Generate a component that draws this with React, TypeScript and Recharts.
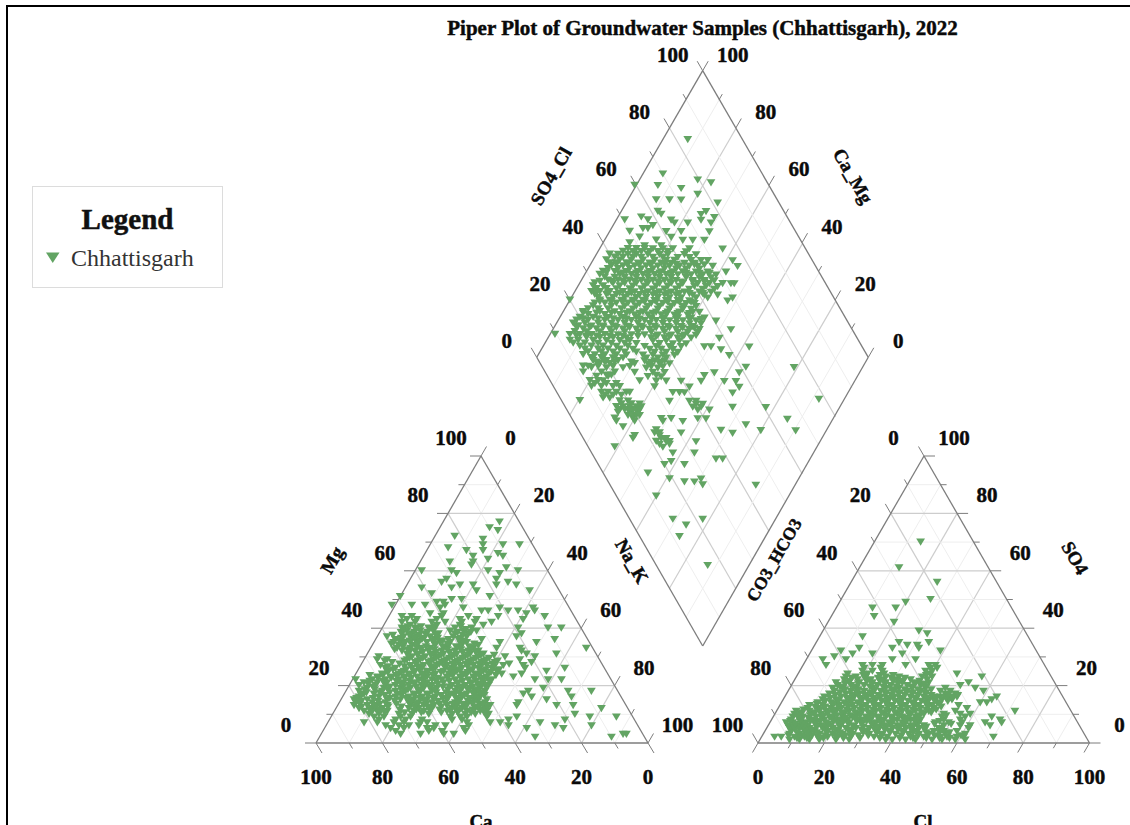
import React from "react";
import { ScatterChart, Scatter, XAxis, YAxis, ReferenceLine } from "recharts";

// ---- values ----
const SERIES_NAME = "Chhattisgarh";
const TITLE = "Piper Plot of Groundwater Samples (Chhattisgarh), 2022";
const TICK_VALUES = [0, 20, 40, 60, 80, 100];

// cation triangle: [Mg %, [Ca % of each sample at that Mg %]]
const cationRows: [number, number[]][] = [
  [2, [33, 10]],
  [3, [73, 67, 60, 57, 6, 5]],
  [4, [74, 64, 60, 53]],
  [5, [75, 71, 64, 62, 53, 34, 23]],
  [6, [76, 72, 69, 66, 61, 58, 51, 14, 25, 39]],
  [7, [82, 78, 73, 70, 65, 63, 51, 44, 29, 41]],
  [8, [77, 72, 69, 64, 55, 52, 21, 38]],
  [9, [78, 75, 70, 67, 55, 52, 50, 44, 35, 13, 5]],
  [10, [79, 76, 70, 66, 61, 54, 50, 47, 43, 17]],
  [11, [80, 76, 73, 65, 62, 55, 52, 49, 45, 43]],
  [12, [81, 77, 74, 66, 63, 59, 53, 50, 46, 43, 8]],
  [13, [82, 78, 75, 72, 65, 61, 58, 54, 51, 48, 44, 41, 33, 21, 16]],
  [14, [81, 76, 72, 65, 62, 58, 54, 51, 46, 42, 32]],
  [15, [81, 77, 71, 67, 63, 59, 53, 49, 45, 41, 23]],
  [16, [79, 73, 68, 64, 60, 56, 52, 48, 43, 27, 15]],
  [17, [77, 74, 67, 62, 58, 51, 46, 41, 29]],
  [18, [78, 71, 67, 64, 60, 56, 49, 43, 40, 27, 15, 8]],
  [19, [75, 70, 65, 62, 58, 54, 48, 44, 41, 22]],
  [20, [77, 72, 66, 62, 58, 55, 49, 45, 41, 38]],
  [21, [75, 71, 68, 63, 60, 56, 51, 47, 43, 39]],
  [22, [77, 72, 68, 64, 58, 54, 51, 47, 43, 39, 36, 23, 19, 15]],
  [23, [70, 66, 62, 58, 55, 49, 45, 41, 37, 29]],
  [24, [68, 63, 60, 56, 52, 48, 44, 40, 36, 32, 26]],
  [25, [66, 61, 58, 54, 49, 45, 41, 37, 33, 18]],
  [26, [66, 63, 58, 55, 51, 46, 43, 38, 34, 24, 12]],
  [27, [67, 58, 54, 50, 47, 43, 39, 35, 30, 24]],
  [28, [63, 56, 52, 48, 44, 40, 36, 32, 21]],
  [29, [67, 64, 58, 54, 50, 46, 42, 38, 34, 24]],
  [30, [66, 56, 52, 48, 44, 40, 36, 28, 19]],
  [31, [57, 54, 49, 46, 42, 38, 34, 21, 12]],
  [32, [58, 54, 50, 46, 42, 38, 35, 22]],
  [33, [59, 55, 52, 49, 44, 40, 36, 29, 22, 2]],
  [34, [58, 54, 47, 43, 39, 34]],
  [35, [59, 56, 52, 49, 45, 42, 37, 27, 16]],
  [36, [58, 53, 50, 46, 42, 39, 32, 10]],
  [37, [60, 55, 51, 47, 40, 36, 21]],
  [38, [55, 52, 48, 44, 39, 35, 19]],
  [39, [53, 49, 45, 40, 36, 32]],
  [40, [54, 50, 46, 38, 33, 19, 10, 6]],
  [41, [51, 43, 36, 29]],
  [42, [53, 49, 44, 40, 35, 31, 26]],
  [43, [51, 48, 42, 35, 30, 16]],
  [44, [52, 49, 40, 32, 23, 9]],
  [45, [43, 39, 14]],
  [46, [27, 25, 19, 16, 11]],
  [47, [39, 32, 21, 11]],
  [48, [53, 47, 43, 37]],
  [49, [39, 37]],
  [50, [34, 31]],
  [51, [49, 22]],
  [52, [39]],
  [53, [25, 9]],
  [54, [41, 32]],
  [55, [29, 25, 18, 12]],
  [56, [34, 14]],
  [57, [32, 17]],
  [59, [28, 15]],
  [60, [38, 29, 18, 9]],
  [61, [12]],
  [62, [22]],
  [63, [28, 21]],
  [64, [16]],
  [65, [20, 11]],
  [66, [12]],
  [67, [21, 16]],
  [68, [26]],
  [69, [15, 9, 4]],
  [71, [14]],
  [72, [22]],
  [74, [8]],
  [75, [10]],
  [77, [6]],
];
// samples in the dense core of the same triangle
const cationCoreRows: [number, number[]][] = [
  [10.5, [78, 74, 68, 63, 57, 52, 48, 44]],
  [11.5, [78, 75, 69, 64, 60, 57, 54, 51, 47, 44]],
  [12.5, [80, 76, 72, 68, 64, 60, 56, 52, 49, 45, 42]],
  [13.5, [80, 74, 69, 63, 60, 56, 52, 49, 46, 43]],
  [14.5, [79, 74, 69, 64, 60, 56, 50, 47, 44]],
  [15.5, [80, 75, 70, 65, 61, 57, 54, 50, 46, 43]],
  [16.5, [78, 71, 66, 62, 58, 54, 50, 47, 44, 41]],
  [17.5, [76, 72, 69, 65, 60, 55, 52, 48, 44, 42]],
  [18.5, [76, 73, 69, 63, 59, 55, 51, 47, 45, 42]],
  [19.5, [73, 68, 64, 60, 56, 52, 50, 46, 43, 39]],
  [20.5, [74, 69, 64, 60, 57, 53, 47, 43, 40]],
  [21.5, [73, 69, 65, 61, 57, 53, 49, 45, 41, 37]],
  [22.5, [70, 66, 62, 60, 56, 52, 49, 45, 41, 38]],
  [23.5, [72, 68, 64, 60, 56, 53, 47, 43, 39, 34]],
  [24.5, [66, 62, 58, 54, 50, 46, 42, 38, 35]],
  [25.5, [64, 60, 56, 52, 47, 44, 40, 36, 32]],
  [26.5, [65, 60, 56, 52, 48, 45, 41, 37, 33]],
  [27.5, [61, 56, 52, 49, 45, 41, 37, 33, 28]],
  [28.5, [65, 59, 55, 51, 47, 43, 39, 35, 31]],
  [29.5, [57, 53, 49, 45, 41, 37, 33]],
  [30.5, [54, 50, 47, 43, 39, 35, 31]],
  [31.5, [56, 52, 48, 44, 40, 36]],
  [32.5, [60, 56, 52, 48, 44, 40, 37]],
  [33.5, [57, 53, 50, 45, 41, 37]],
  [34.5, [60, 56, 52, 47, 43, 39, 35]],
  [35.5, [57, 54, 51, 47, 44, 38]],
  [36.5, [56, 52, 49, 45, 38]],
  [37.5, [58, 53, 50, 45, 37]],
  [38.5, [55, 51, 47, 38, 34]],
  [39.5, [54, 50, 45, 35]],
  [40.5, [52, 48, 44, 36]],
];

// anion triangle: [SO4 %, [Cl % of each sample at that SO4 %]]
const anionRows: [number, number[]][] = [
  [1, [9, 12, 15, 18, 23, 27, 38, 40, 44, 47, 52, 55, 59, 62]],
  [2, [4, 6, 10, 13, 17, 20, 23, 27, 34, 38, 45, 49, 54, 56, 59, 61, 70]],
  [3, [8, 11, 14, 17, 21, 24, 27, 32, 36, 40, 44, 47, 50, 55, 61]],
  [4, [8, 12, 15, 19, 22, 26, 31, 34, 38, 42, 46, 51, 54, 58]],
  [5, [7, 10, 13, 17, 20, 24, 27, 31, 34, 38, 42, 46, 52, 61]],
  [6, [6, 9, 12, 16, 19, 22, 26, 32, 35, 39, 43, 47, 53, 58, 61, 67]],
  [7, [5, 7, 11, 14, 17, 21, 24, 28, 32, 36, 40, 44, 50, 54, 58, 65, 70]],
  [8, [6, 9, 13, 16, 20, 23, 27, 30, 34, 38, 42, 45, 52, 57, 69]],
  [9, [6, 9, 13, 17, 21, 24, 28, 32, 36, 39, 43, 51, 58, 66]],
  [10, [6, 8, 11, 14, 18, 21, 25, 29, 33, 37, 41, 45, 51, 56, 59]],
  [11, [6, 10, 15, 18, 22, 26, 30, 34, 38, 42, 46, 54, 72]],
  [12, [9, 12, 16, 19, 23, 27, 31, 35, 39, 43, 47, 57]],
  [13, [9, 13, 18, 22, 26, 30, 34, 38, 42, 46, 54]],
  [14, [11, 15, 19, 23, 28, 32, 36, 40, 44, 47, 60, 62]],
  [15, [12, 16, 20, 24, 28, 32, 36, 40, 44, 48, 51, 63]],
  [16, [12, 17, 21, 25, 29, 33, 38, 42, 45, 47, 50, 52, 64]],
  [17, [13, 18, 22, 26, 30, 34, 38, 42, 48, 51]],
  [18, [14, 19, 23, 28, 32, 36, 40, 46, 49, 59]],
  [19, [13, 16, 20, 25, 29, 33, 37, 41, 47, 56]],
  [20, [14, 18, 22, 26, 30, 35, 39, 51]],
  [21, [13, 16, 20, 24, 28, 33, 37, 41, 53]],
  [22, [15, 19, 23, 27, 31, 35, 40]],
  [23, [15, 18, 21, 27, 31, 38, 41, 56]],
  [24, [15, 21, 26, 40, 48]],
  [25, [19, 22, 25, 38, 40]],
  [26, [19, 24, 39, 41]],
  [27, [7, 18, 21, 24, 31, 38, 40]],
  [29, [5, 12, 26, 33]],
  [30, [8]],
  [31, [13, 19, 28]],
  [32, [9, 39]],
  [33, [14, 24, 32]],
  [34, [28, 31]],
  [35, [25, 34]],
  [37, [13]],
  [38, [32]],
  [39, [29]],
  [42, [20]],
  [44, [13]],
  [47, [11, 18]],
  [49, [20]],
  [50, [27]],
  [56, [26]],
  [61, [12]],
  [70, [14]],
];
const anionCoreRows: [number, number[]][] = [
  [1.5, [11, 14, 19, 25, 30, 36, 42, 46, 50, 54, 57]],
  [2.5, [8, 12, 15, 19, 22, 25, 29, 32, 36, 42, 47, 52, 60]],
  [3.5, [10, 13, 16, 19, 23, 26, 30, 34, 38, 42, 45, 49, 53, 56]],
  [4.5, [9, 12, 14, 18, 21, 25, 29, 33, 36, 40, 44, 48, 53]],
  [5.5, [8, 11, 15, 18, 22, 26, 29, 33, 36, 40, 44, 48]],
  [6.5, [8, 10, 14, 18, 21, 24, 28, 31, 34, 37, 41, 45, 50, 55]],
  [7.5, [6, 9, 12, 15, 19, 22, 26, 29, 33, 37, 41, 44, 51]],
  [8.5, [8, 11, 15, 18, 22, 25, 29, 32, 36, 40, 44]],
  [9.5, [7, 11, 15, 19, 23, 26, 30, 34, 38, 41, 44, 52]],
  [10.5, [8, 12, 16, 20, 24, 28, 32, 36, 40, 44, 47]],
  [11.5, [8, 13, 17, 21, 25, 29, 33, 37, 41, 45, 48]],
  [12.5, [11, 14, 18, 21, 25, 29, 33, 37, 41, 45, 49]],
  [13.5, [11, 16, 20, 24, 28, 32, 36, 40, 44, 48]],
  [14.5, [13, 17, 21, 26, 30, 34, 38, 42, 46, 50]],
  [15.5, [14, 19, 23, 27, 31, 35, 40, 43, 46, 49, 51]],
  [16.5, [15, 20, 24, 28, 32, 36, 40, 44, 49, 52]],
  [17.5, [16, 21, 25, 30, 34, 38, 42]],
  [18.5, [17, 21, 26, 31, 35, 39, 43]],
  [19.5, [15, 19, 24, 28, 32, 37, 41]],
  [20.5, [16, 20, 24, 28, 32, 37, 40]],
  [21.5, [17, 22, 26, 30, 33, 38]],
  [22.5, [17, 21, 25, 29, 33]],
  [23.5, [20, 25, 29, 39]],
];

// diamond: [SO4_Cl − Na_K, [SO4_Cl + Na_K of each sample at that difference]]
const diamondRows: [number, number[]][] = [
  [76, [91]],
  [64, [76]],
  [62, [97]],
  [61, [105]],
  [60, [59, 73]],
  [59, [87]],
  [57, [97]],
  [55, [72, 80, 87]],
  [54, [109]],
  [51, [73, 102]],
  [50, [75, 99]],
  [49, [63, 107]],
  [48, [53, 67, 81, 99]],
  [47, [83, 91, 105]],
  [46, [70]],
  [45, [64, 67]],
  [44, [56, 78, 87, 104]],
  [42, [62, 81]],
  [41, [72, 88, 94, 101]],
  [40, [56]],
  [39, [65, 75]],
  [38, [55, 60, 65, 70, 76, 82, 92, 112]],
  [36, [44, 49, 55, 60, 67, 74, 79, 89, 96]],
  [34, [42, 50, 57, 64, 71, 78, 83, 93, 99, 103, 118]],
  [32, [45, 52, 59, 66, 73, 80, 86, 92, 97, 106, 121]],
  [30, [40, 47, 54, 61, 68, 75, 82, 88, 96, 103, 114]],
  [29, [38, 50, 57, 64, 71, 78, 85, 93, 100, 108]],
  [27, [43, 49, 56, 63, 70, 77, 84, 94, 101, 107]],
  [26, [35, 46, 53, 60, 67, 74, 81, 88, 97, 104, 112, 117, 119]],
  [25, [34, 40, 50, 58, 65, 72, 79, 86, 95, 102, 109]],
  [23, [33, 38, 44, 52, 59, 67, 74, 81, 89, 98, 105]],
  [22, [35, 42, 48, 55, 62, 70, 77, 84, 94, 101, 109]],
  [21, [37, 46, 53, 60, 66, 73, 80, 87, 96, 103, 118]],
  [20, [20, 38, 44, 51, 58, 64, 71, 78, 85, 92, 115]],
  [19, [35, 41, 48, 55, 62, 69, 76, 83, 90, 95]],
  [18, [34, 45, 53, 60, 67, 74, 81, 88, 96]],
  [16, [28, 38, 47, 56, 64, 72, 79, 86, 94, 98]],
  [15, [31, 41, 50, 59, 67, 75, 83, 91]],
  [14, [26, 34, 43, 52, 60, 69, 77, 85, 93, 101]],
  [13, [24, 31, 41, 49, 57, 65, 72, 80, 88, 96, 108]],
  [11, [25, 33, 40, 47, 55, 63, 71, 79, 87, 94]],
  [10, [28, 36, 44, 52, 60, 68, 76, 84, 92, 98, 117]],
  [8, [11, 20, 26, 33, 41, 49, 57, 65, 73, 81, 89, 96]],
  [7, [30, 38, 46, 54, 69, 77, 85, 93, 110]],
  [6, [20, 25, 34, 42, 50, 56, 70, 78, 86]],
  [4, [26, 33, 40, 48, 55, 65, 72, 80, 87, 101, 105, 128]],
  [3, [29, 37, 43, 50, 58, 68, 75, 82, 111]],
  [1, [28, 35, 41, 48, 54, 64, 70, 76, 83, 116]],
  [0, [33, 39, 46, 52, 66, 73, 78]],
  [-1, [34, 42, 49, 65, 71, 77]],
  [-2, [38, 44, 59, 67, 74, 80]],
  [-3, [28, 31, 37, 46, 56, 69, 76, 126, 155]],
  [-5, [28, 39, 47, 59, 70, 77, 107, 122]],
  [-6, [42, 45, 72, 101]],
  [-8, [32, 37, 40, 62, 72, 78, 87, 99, 113, 120]],
  [-10, [33, 39, 46, 50, 71, 92, 122]],
  [-12, [39, 43, 48, 54, 56, 82, 86, 89, 118]],
  [-14, [40, 44, 170]],
  [-15, [26, 50, 55, 80, 92, 96]],
  [-17, [48, 52, 56, 60, 63, 94, 99, 118, 138]],
  [-18, [50, 58, 104]],
  [-19, [49, 57, 61]],
  [-21, [47, 58, 75, 81, 97, 102, 151]],
  [-22, [48, 59, 76, 88]],
  [-23, [126]],
  [-24, [52]],
  [-25, [72, 111, 135, 156]],
  [-26, [87, 118]],
  [-27, [59, 74]],
  [-28, [58]],
  [-29, [72, 78, 80, 96]],
  [-31, [47, 76]],
  [-33, [82, 95]],
  [-35, [108, 112]],
  [-36, [81]],
  [-37, [77, 89]],
  [-40, [67]],
  [-42, [80, 99]],
  [-43, [89, 95]],
  [-44, [100, 132]],
  [-48, [72]],
  [-56, [82, 100]],
  [-58, [90]],
  [-62, [86]],
  [-72, [103]],
];
const diamondCoreRows: [number, number[]][] = [
  [37, [52, 58, 63, 68, 73, 79, 90]],
  [35, [47, 52, 58, 63, 70, 76, 85, 92]],
  [33, [44, 48, 54, 61, 68, 75, 81, 89, 95]],
  [32.5, [48, 55, 62, 69, 77, 84, 95, 101]],
  [31, [43, 49, 56, 63, 70, 77, 84, 90, 98]],
  [29.5, [42, 52, 60, 67, 74, 81, 90, 98, 104]],
  [28, [41, 47, 53, 60, 67, 74, 81, 90, 98, 105]],
  [26.5, [38, 45, 52, 59, 66, 73, 80, 87, 94, 101]],
  [24, [36, 42, 48, 56, 63, 70, 77, 84, 92, 100, 107]],
  [22.5, [36, 43, 50, 57, 65, 72, 79, 86, 92, 100]],
  [19.5, [38, 45, 52, 58, 65, 72, 79, 86, 93]],
  [17, [31, 37, 43, 51, 58, 66, 73, 80, 88, 93]],
  [15.5, [28, 36, 45, 54, 62, 70, 78, 85, 92]],
  [13.5, [28, 37, 46, 54, 62, 69, 76, 84, 92, 99]],
  [12, [22, 29, 37, 45, 53, 61, 68, 76, 84, 92, 99]],
  [10.5, [24, 32, 40, 48, 56, 64, 72, 80, 88, 95]],
  [9, [23, 30, 38, 45, 53, 61, 69, 77, 85, 91, 97]],
  [7.5, [24, 30, 36, 44, 52, 61, 72, 80, 88]],
  [5, [22, 29, 37, 45, 53, 60, 74, 82, 90]],
  [2, [31, 39, 46, 53, 60, 71, 78, 85]],
  [-1.5, [36, 41, 47, 57, 69, 75]],
  [-3.5, [33, 42, 52, 66, 73]],
  [-6.5, [36, 43, 67, 75]],
  [-9, [35, 42, 48]],
  [-13, [41, 46, 51]],
  [-16, [51, 57, 62, 96, 100]],
  [-18, [53, 55, 60, 62, 97]],
  [-20, [55, 58, 60, 62]],
  [-26, [71, 74]],
  [-28, [75, 78]],
  [-30, [74, 80]],
];

// ---- geometry and style ----
type Pt = { x: number; y: number };
const WIDTH = 1130;
const HEIGHT = 825;
const GREEN = "#62a463";
const EDGE = "#7d7d7d";
const MAJOR = "#cdcdcd";
const MINOR = "#eeeeee";
const FONT = "'Liberation Serif', serif";

const cat = { bl: { x: 316, y: 743 }, br: { x: 648, y: 743 }, apex: { x: 481, y: 456 } };
const ani = { bl: { x: 758, y: 743 }, br: { x: 1089.5, y: 743 }, apex: { x: 924, y: 456 } };
const dia = { left: { x: 536.7, y: 357.3 }, top: { x: 702.7, y: 70.7 }, bottom: { x: 702.7, y: 646 }, right: { x: 868.3, y: 357.3 } };

const bary = (a: Pt, b: Pt, c: Pt, ua: number, ub: number): Pt => {
  const uc = 100 - ua - ub;
  return { x: (a.x * ua + b.x * ub + c.x * uc) / 100, y: (a.y * ua + b.y * ub + c.y * uc) / 100 };
};
const lerp = (a: Pt, b: Pt, t: number): Pt => ({ x: a.x + (b.x - a.x) * t, y: a.y + (b.y - a.y) * t });
const diamondPoint = (s: number, n: number): Pt => ({
  x: dia.left.x + ((dia.top.x - dia.left.x) * s + (dia.bottom.x - dia.left.x) * n) / 100,
  y: dia.left.y + ((dia.top.y - dia.left.y) * s + (dia.bottom.y - dia.left.y) * n) / 100,
});

const cationData = [...cationRows, ...cationCoreRows].flatMap(([mg, cas]) => cas.map((ca) => bary(cat.bl, cat.apex, cat.br, ca, mg)));
const anionData = [...anionRows, ...anionCoreRows].flatMap(([so4, cls]) => cls.map((cl) => bary(ani.br, ani.apex, ani.bl, cl, so4)));
const diamondData = [...diamondRows, ...diamondCoreRows].flatMap(([diff, sums]) => sums.map((sum) => diamondPoint((sum + diff) / 2, (sum - diff) / 2)));

type Seg = { a: Pt; b: Pt; color: string; w: number };
const segs: Seg[] = [];
const edges: Seg[] = [];
const LEVELS = [10, 20, 30, 40, 50, 60, 70, 80, 90];
const gridStyle = (k: number) => (k % 20 === 0 ? { color: MAJOR, w: 1.2 } : { color: MINOR, w: 1 });

const triGrid = (a: Pt, b: Pt, c: Pt) => {
  LEVELS.forEach((k) => {
    const st = gridStyle(k);
    segs.push({ a: bary(a, b, c, k, 100 - k), b: bary(a, b, c, k, 0), ...st });
    segs.push({ a: bary(b, c, a, k, 100 - k), b: bary(b, c, a, k, 0), ...st });
    segs.push({ a: bary(c, a, b, k, 100 - k), b: bary(c, a, b, k, 0), ...st });
  });
};
triGrid(cat.bl, cat.br, cat.apex);
triGrid(ani.bl, ani.br, ani.apex);
LEVELS.forEach((k) => {
  const st = gridStyle(k);
  segs.push({ a: diamondPoint(k, 0), b: diamondPoint(k, 100), ...st });
  segs.push({ a: diamondPoint(0, k), b: diamondPoint(100, k), ...st });
});

const edge = (a: Pt, b: Pt, dx: number, dy: number) => {
  if (dx !== 0 || dy !== 0) {
    for (let i = 0; i <= 10; i++) {
      const p = lerp(a, b, i / 10);
      const f = i % 2 === 0 ? 1 : 0.55;
      edges.push({ a: p, b: { x: p.x + dx * f, y: p.y + dy * f }, color: EDGE, w: 1 });
    }
  }
  edges.push({ a, b, color: EDGE, w: 1.3 });
};
edge(cat.bl, cat.apex, -11, 0);
edge(cat.bl, cat.br, 6, 10);
edge(cat.br, cat.apex, 5.5, -9.5);
edge(ani.bl, ani.apex, -5.5, -9.5);
edge(ani.bl, ani.br, -5.5, 9.5);
edge(ani.br, ani.apex, 11, 0);
edge(dia.left, dia.top, -5.5, -9.5);
edge(dia.right, dia.top, 5.5, -9.5);
edge(dia.left, dia.bottom, 0, 0);
edge(dia.bottom, dia.right, 0, 0);

type Label = Pt & { text: string; size: number; rot: number };
const labels: Label[] = [];
const tickRow = (a: Pt, b: Pt, dx: number, dy: number, reverse: boolean) => {
  TICK_VALUES.forEach((v) => {
    const p = lerp(a, b, (reverse ? 100 - v : v) / 100);
    labels.push({ x: p.x + dx, y: p.y + dy, text: String(v), size: 21, rot: 0 });
  });
};
tickRow(cat.bl, cat.apex, -30, -18, false);
tickRow(cat.br, cat.apex, 29.5, -18, true);
tickRow(cat.bl, cat.br, 0, 34, true);
tickRow(ani.bl, ani.apex, -30.5, -18, true);
tickRow(ani.br, ani.apex, 30, -18, false);
tickRow(ani.bl, ani.br, 0, 34, false);
tickRow(dia.left, dia.top, -30, -16, false);
tickRow(dia.right, dia.top, 30, -16, false);
labels.push(
  { x: 702.5, y: 28, text: TITLE, size: 21, rot: 0 },
  { x: 551, y: 176, text: "SO4_Cl", size: 19, rot: -60 },
  { x: 853, y: 176, text: "Ca_Mg", size: 19, rot: 60 },
  { x: 332, y: 560, text: "Mg", size: 19, rot: -60 },
  { x: 632, y: 561, text: "Na_K", size: 19, rot: 60 },
  { x: 774, y: 560, text: "CO3_HCO3", size: 17.5, rot: -60 },
  { x: 1075, y: 558, text: "SO4", size: 19, rot: 60 },
  { x: 481, y: 821, text: "Ca", size: 19, rot: 0 },
  { x: 923, y: 821, text: "Cl", size: 19, rot: 0 }
);

const Marker = (props: any) => {
  const { cx, cy } = props;
  return <polygon points={`${cx - 4.4},${cy - 3.6} ${cx + 4.4},${cy - 3.6} ${cx},${cy + 3.6}`} fill={GREEN} />;
};
const LabelMark = (props: any) => {
  const { cx, cy, payload } = props;
  return (
    <text
      x={cx}
      y={cy}
      textAnchor="middle"
      dominantBaseline="central"
      fontFamily={FONT}
      fontWeight="bold"
      fontSize={payload.size}
      fill="#0a0a0a"
      stroke="#0a0a0a"
      strokeWidth={0.45}
      transform={payload.rot ? `rotate(${payload.rot} ${cx} ${cy})` : undefined}
    >
      {payload.text}
    </text>
  );
};

const renderLine = (s: Seg, key: string) => (
  <ReferenceLine key={key} segment={[s.a, s.b]} stroke={s.color} strokeWidth={s.w} ifOverflow="visible" />
);

export default function App() {
  return (
    <div style={{ position: "absolute", left: 0, top: 0, width: WIDTH, height: HEIGHT, overflow: "hidden", background: "#fff" }}>
      <div style={{ position: "absolute", left: 6, top: 5, right: 0, bottom: 0, borderTop: "2px solid #000", borderLeft: "2px solid #000" }} />
      <div style={{ position: "absolute", left: 0, top: 0 }}>
        <ScatterChart width={WIDTH} height={HEIGHT} margin={{ top: 0, right: 0, bottom: 0, left: 0 }}>
          <XAxis type="number" dataKey="x" domain={[0, WIDTH]} hide />
          <YAxis type="number" dataKey="y" domain={[0, HEIGHT]} reversed hide />
          {segs.map((s, i) => renderLine(s, `g${i}`))}
          {edges.map((s, i) => renderLine(s, `e${i}`))}
          <Scatter name={`${SERIES_NAME} cations`} data={cationData} shape={Marker} isAnimationActive={false} />
          <Scatter name={`${SERIES_NAME} anions`} data={anionData} shape={Marker} isAnimationActive={false} />
          <Scatter name={`${SERIES_NAME} diamond`} data={diamondData} shape={Marker} isAnimationActive={false} />
          <Scatter name="labels" data={labels} shape={LabelMark} isAnimationActive={false} />
        </ScatterChart>
      </div>
      <div
        style={{
          position: "absolute",
          left: 32,
          top: 186,
          width: 189,
          height: 100,
          border: "1px solid #dcdcdc",
          fontFamily: FONT,
          color: "#111",
        }}
      >
        <div style={{ position: "absolute", left: 0, right: 0, top: 15, textAlign: "center", fontWeight: "bold", fontSize: 29, lineHeight: "34px", WebkitTextStroke: "0.5px #111" }}>Legend</div>
        <svg style={{ position: "absolute", left: 13, top: 65 }} width="14" height="12">
          <polygon points="0,0.5 13.5,0.5 6.75,11" fill={GREEN} />
        </svg>
        <div style={{ position: "absolute", left: 38, top: 57, fontSize: 24, lineHeight: "28px", color: "#333" }}>{SERIES_NAME}</div>
      </div>
    </div>
  );
}
